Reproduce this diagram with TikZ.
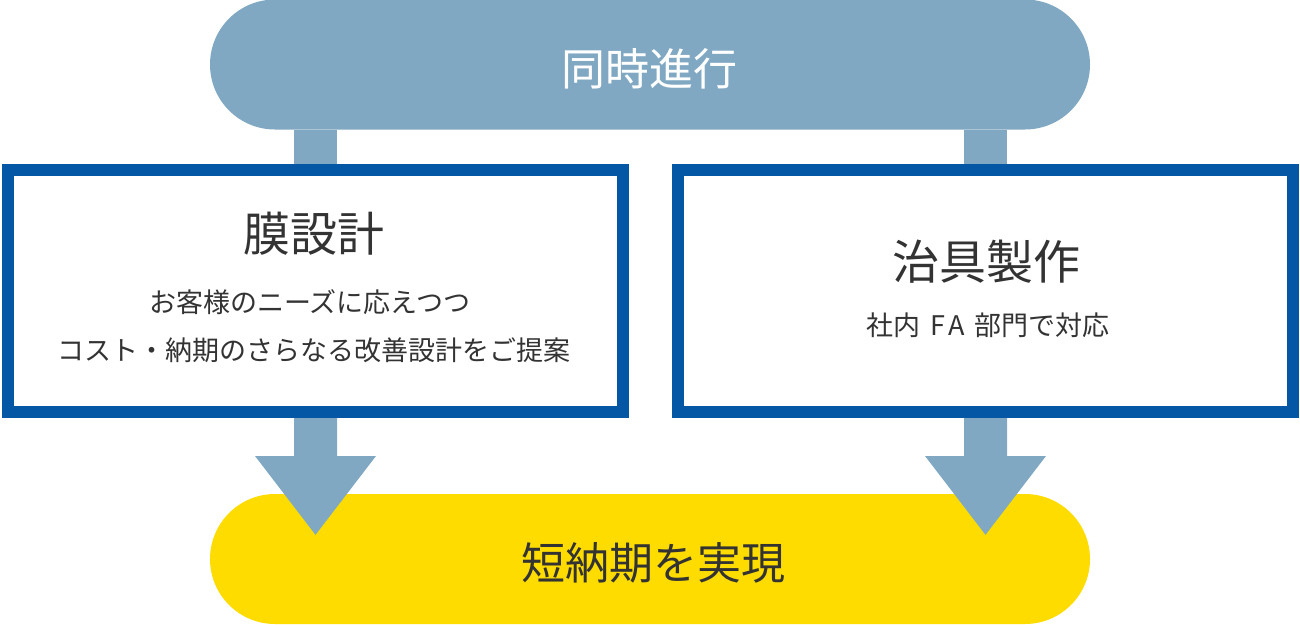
\documentclass[tikz,border=0pt]{standalone}
\usepackage{fontspec}
\setmainfont{Noto Sans CJK JP}
\usetikzlibrary{positioning,calc,shapes.misc,backgrounds}
\definecolor{stemblue}{HTML}{80A8C3}
\definecolor{boxblue}{HTML}{0457A5}
\definecolor{goalyellow}{HTML}{FEDC00}
\definecolor{inkgray}{HTML}{333333}

\begin{document}
\begin{tikzpicture}[x=1pt,y=-1pt,
    pill/.style={rounded rectangle, minimum width=880pt, minimum height=130pt, inner sep=0pt},
    taskbox/.style={draw=boxblue, line width=12pt, fill=white, minimum width=615pt, minimum height=242pt},
    headline/.style={inner sep=0pt, font=\fontsize{44}{52}\selectfont},
    boxtitle/.style={inner sep=0pt, text=inkgray, font=\fontsize{47}{54}\selectfont},
    note/.style={inner sep=0pt, text=inkgray, font=\fontsize{27}{32}\selectfont},
    stem/.style={stemblue, line width=43pt}]
    \useasboundingbox (0,0) rectangle (1300,624);

    % Boxes
    \node[taskbox] (design) at (315.5,291) {};
    \node[taskbox] (jig) at (985.5,291) {};

    \node[boxtitle] (designtitle) at (314,234) {膜設計};
    \node[note] (designnote1) at (310,302) {お客様のニーズに応えつつ};
    \node[note] (designnote2) at (314,350) {コスト・納期のさらなる改善設計をご提案};

    \node[boxtitle] (jigtitle) at (986.5,262) {治具製作};
    \node[note] (jignote) at (988,325) {社内\hspace{0.35em}F\kern0.12em A\hspace{0.35em}部門で対応};

    \begin{scope}[on background layer]
        % Pills
        \node[pill, fill=stemblue] (sync) at (650,64.5) {};
        \node[pill, fill=goalyellow] (goal) at (650,559) {};
        \node[headline, text=white] (synctext) at (649.5,69) {同時進行};
        \node[headline, text=inkgray] (goaltext) at (653.5,563) {短納期を実現};

        % Stems from sync
        \foreach \b in {design,jig}
            \draw[stem] (\b.north |- sync.south) -- (\b.north);

        % Arrows into goal
        \foreach \b in {design,jig}
            \fill[stemblue] ($(\b.south)+(-21.5,0)$) -- ++(0,38) -- ++(-39,0)
                -- ($(\b.south |- goal.north)+(0,41)$)
                -- ($(\b.south)+(60.5,38)$) -- ++(-39,0) -- ($(\b.south)+(21.5,0)$) -- cycle;
    \end{scope}
\end{tikzpicture}
\end{document}
